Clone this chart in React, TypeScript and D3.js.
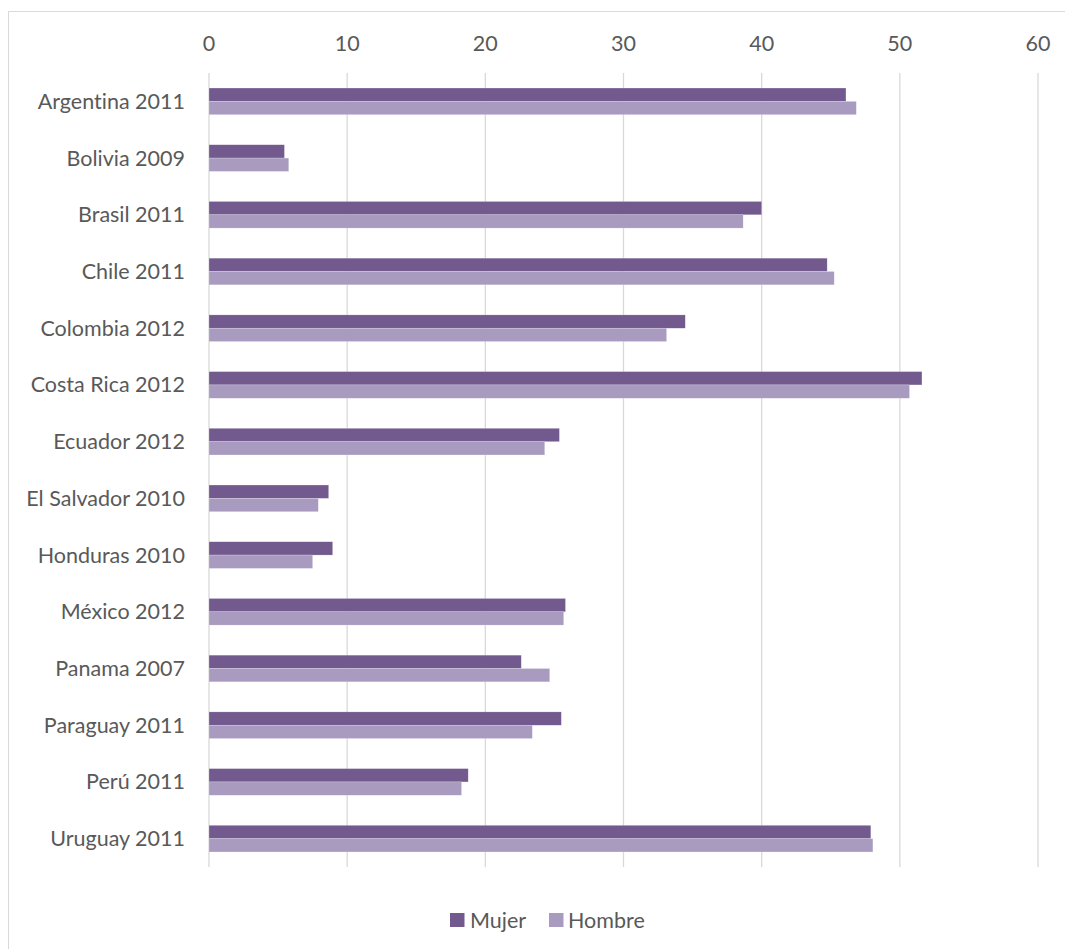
import React from "react";
import * as d3 from "d3";

const categories = [
  "Argentina 2011", "Bolivia 2009", "Brasil 2011", "Chile 2011", "Colombia 2012",
  "Costa Rica 2012", "Ecuador 2012", "El Salvador 2010", "Honduras 2010", "México 2012",
  "Panama 2007", "Paraguay 2011", "Perú 2011", "Uruguay 2011",
];
const mujer = [46.1, 5.46, 40.0, 44.74, 34.47, 51.6, 25.36, 8.66, 8.95, 25.8, 22.6, 25.5, 18.76, 47.9];
const hombre = [46.85, 5.77, 38.66, 45.25, 33.12, 50.7, 24.3, 7.91, 7.5, 25.67, 24.66, 23.4, 18.28, 48.05];
const xTicks = [0, 10, 20, 30, 40, 50, 60];
const seriesNames = ["Mujer", "Hombre"];
const seriesColors = ["#725a8f", "#a99bbf"];

const W = 1065;
const H = 949;
const FONT = "Lato, 'Open Sans', sans-serif";
const FS = 21.5;

export default function App() {
  const x = d3.scaleLinear().domain([0, 60]).range([209, 1038]);
  const y = d3.scaleBand<string>().domain(categories).range([73, 867]).padding(0);
  const bw = y.bandwidth();
  const group = bw * 0.47;
  const barH = group / 2;
  const series = [mujer, hombre];

  return (
    <svg
      width={W}
      height={H}
      style={{ position: "absolute", left: 0, top: 0, background: "#fff", fontVariantLigatures: "none" }}
      fontFamily={FONT}
    >
      <rect x={8.5} y={11.5} width={W + 20} height={H + 20} fill="#fff" stroke="#d9d9d9" strokeWidth={1} />
      {xTicks.map((t) => (
        <g key={t}>
          <line x1={x(t)} x2={x(t)} y1={73} y2={867} stroke="#d9d9d9" strokeWidth={1.3} />
          <text x={x(t)} y={51} textAnchor="middle" fontSize={FS} fill="#595959">
            {t}
          </text>
        </g>
      ))}
      {categories.map((c, i) => {
        const y0 = (y(c) as number) + (bw - group) / 2;
        return (
          <g key={c}>
            {series.map((s, k) => (
              <rect
                key={k}
                x={x(0)}
                y={y0 + k * barH}
                width={x(s[i]) - x(0)}
                height={barH}
                fill={seriesColors[k]}
                stroke="#ffffff"
                strokeOpacity={0.4}
                strokeWidth={0.5}
              />
            ))}
            <text
              x={185}
              y={(y(c) as number) + bw / 2}
              dy="0.35em"
              textAnchor="end"
              fontSize={FS}
              fill="#595959"
            >
              {c}
            </text>
          </g>
        );
      })}
      <g>
        <rect x={450} y={913} width={14.5} height={14} fill={seriesColors[0]} />
        <text x={470} y={927.5} fontSize={FS} fill="#595959">{seriesNames[0]}</text>
        <rect x={549} y={913} width={14.5} height={14} fill={seriesColors[1]} />
        <text x={568} y={927.5} fontSize={FS} fill="#595959">{seriesNames[1]}</text>
      </g>
    </svg>
  );
}
